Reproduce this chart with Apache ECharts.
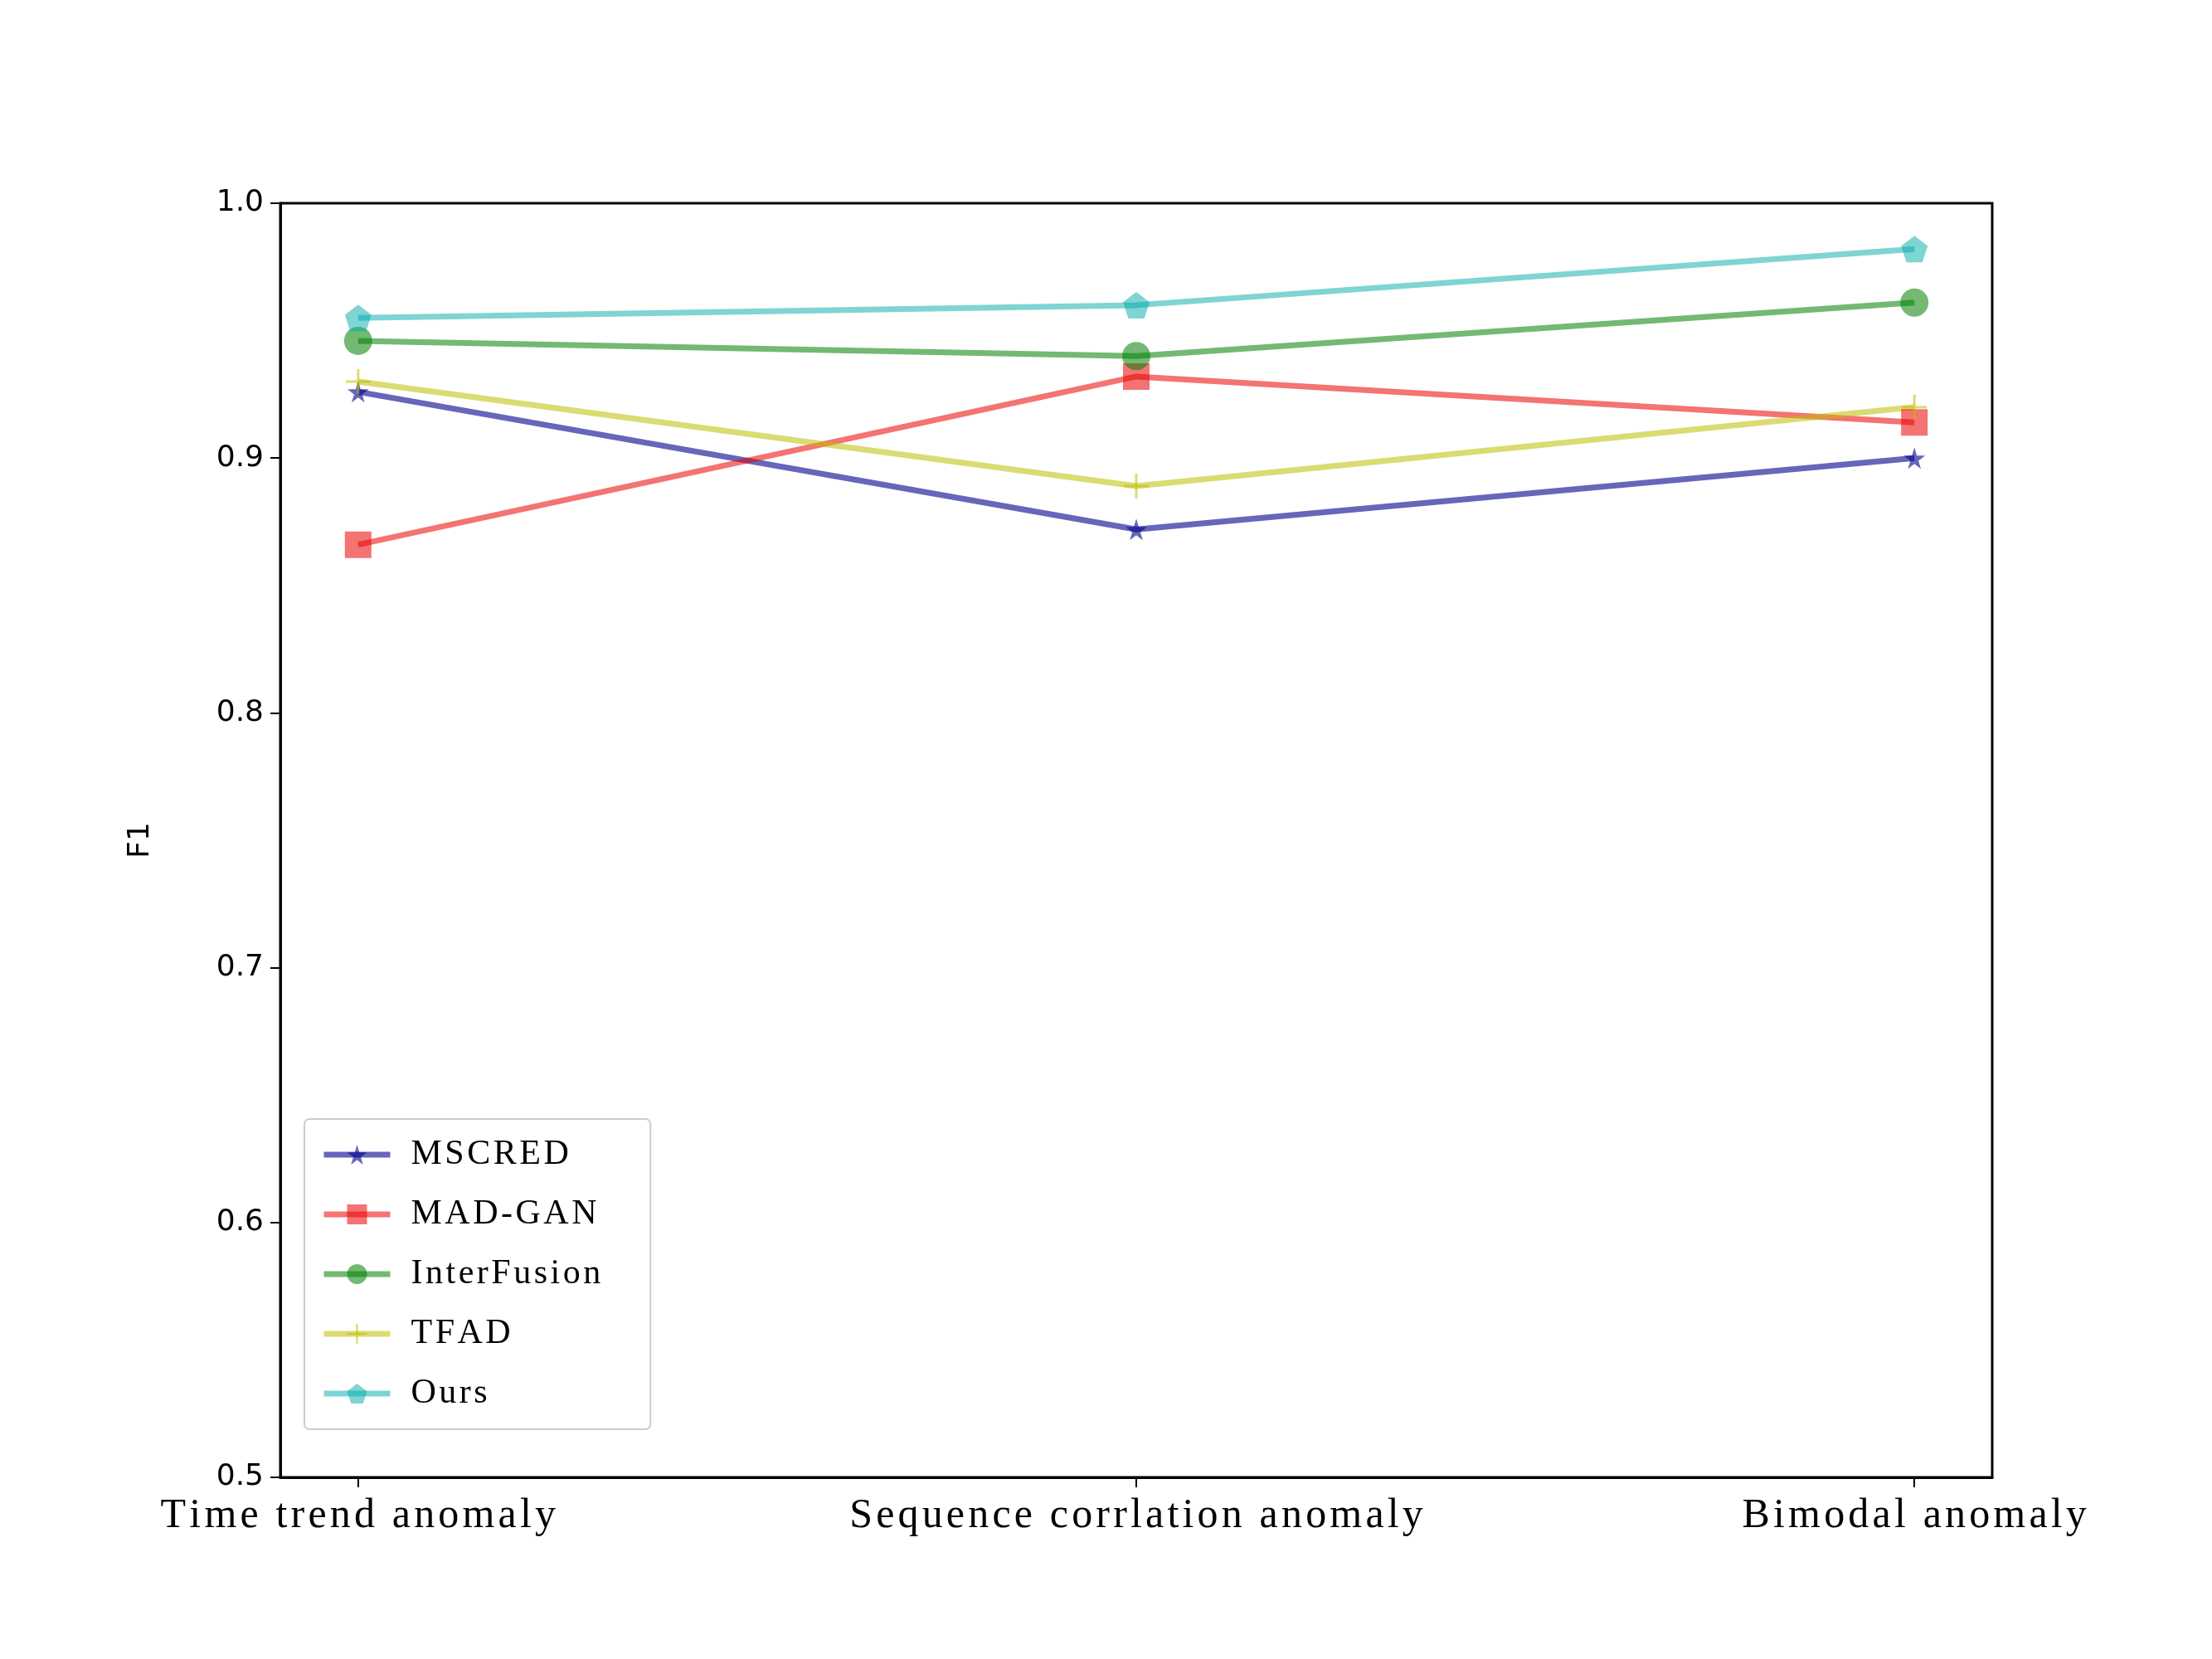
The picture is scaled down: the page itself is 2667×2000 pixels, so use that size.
<!DOCTYPE html>
<html lang="en">
<head>
    <meta charset="UTF-8">
    <title>F1</title>
    <style>
        body, html { margin: 0; height: 100%; overflow: hidden; background: #fff; }
        #main { width: 2667px; height: 2000px; }
    </style>
</head>
<body>
    <div id="main"></div>
    <script src="https://cdn.jsdelivr.net/npm/echarts@6/dist/echarts.min.js"></script>
    <script type="text/javascript">
        // 数据
        const categories = ['Time trend anomaly', 'Sequence corrlation anomaly', 'Bimodal anomaly']
        const mscred = [0.926, 0.872, 0.900]
        const madgan = [0.866, 0.932, 0.914]
        const interfusion = [0.946, 0.940, 0.961]
        const tfad = [0.930, 0.889, 0.920]
        const ours = [0.955, 0.960, 0.982]

        const starPath = 'path://M50,0 L61,35 L98,35 L68,57 L79,91 L50,70 L21,91 L32,57 L2,35 L39,35 Z'
        const pentPath = 'path://M50,0 L98,35 L79,91 L21,91 L2,35 Z'
        const plusPath = 'path://M45,0 L55,0 L55,45 L100,45 L100,55 L55,55 L55,100 L45,100 L45,55 L0,55 L0,45 L45,45 Z'

        const seriesDefs = [
            { name: 'MSCRED', data: mscred, color: 'rgba(0,0,140,0.6)', symbol: starPath, size: 26 },
            { name: 'MAD-GAN', data: madgan, color: 'rgba(235,0,0,0.55)', symbol: 'rect', size: 32 },
            { name: 'InterFusion', data: interfusion, color: 'rgba(0,128,0,0.55)', symbol: 'circle', size: 34 },
            { name: 'TFAD', data: tfad, color: 'rgba(190,190,0,0.55)', symbol: plusPath, size: 30 },
            { name: 'Ours', data: ours, color: 'rgba(0,170,170,0.5)', symbol: pentPath, size: 32 }
        ]

        var myChart = echarts.init(document.getElementById('main'));

        const serifText = s => s.split('').join('\u200a')

        var option = {
            animation: false,
            grid: { left: 338, right: 265, top: 245, bottom: 219 },
            xAxis: {
                type: 'value',
                min: -0.1,
                max: 2.1,
                splitLine: { show: false },
                axisLine: { onZero: false, lineStyle: { color: '#000', width: 3 } },
                axisTick: { show: true, length: 12, lineStyle: { color: '#000', width: 2 }, customValues: [0, 1, 2] },
                axisLabel: {
                    customValues: [0, 1, 2],
                    formatter: v => serifText(categories[Math.round(v)]),
                    fontFamily: 'Liberation Serif',
                    fontSize: 50,
                    color: '#000',
                    margin: 22
                }
            },
            yAxis: {
                type: 'value',
                min: 0.5,
                max: 1.0,
                interval: 0.1,
                name: 'F1',
                nameLocation: 'middle',
                nameGap: 150,
                nameTextStyle: { fontFamily: 'DejaVu Sans', fontSize: 36, color: '#000' },
                splitLine: { show: false },
                axisLine: { show: true, onZero: false, lineStyle: { color: '#000', width: 3 } },
                axisTick: { show: true, length: 12, lineStyle: { color: '#000', width: 2 } },
                axisLabel: {
                    formatter: v => v.toFixed(1),
                    fontFamily: 'DejaVu Sans',
                    fontSize: 36,
                    color: '#000',
                    margin: 20
                }
            },
            // 右、上边框
            graphic: [{
                type: 'rect',
                shape: { x: 338, y: 245, width: 2064, height: 1536 },
                style: { fill: 'none', stroke: '#000', lineWidth: 3 },
                silent: true
            }],
            legend: {
                orient: 'vertical',
                left: 367,
                top: 1349,
                padding: [22, 60, 22, 20],
                itemGap: 30,
                itemWidth: 80,
                itemHeight: 30,
                backgroundColor: '#fff',
                borderColor: '#ccc',
                borderWidth: 2,
                borderRadius: 6,
                textStyle: { fontFamily: 'Liberation Serif', fontSize: 42, color: '#000', padding: [0, 0, 0, 20] },
                formatter: name => serifText(name),
                data: seriesDefs.map(s => s.name)
            },
            series: seriesDefs.map(s => ({
                name: s.name,
                type: 'line',
                data: s.data.map((v, i) => [i, v]),
                symbol: s.symbol,
                symbolSize: s.size,
                lineStyle: { color: s.color, width: 7 },
                itemStyle: { color: s.color }
            }))
        };
        option.legend.data = seriesDefs.map(s => ({ name: s.name, lineStyle: { width: 7 } }))
        myChart.setOption(option);
    </script>
</body>
</html>
